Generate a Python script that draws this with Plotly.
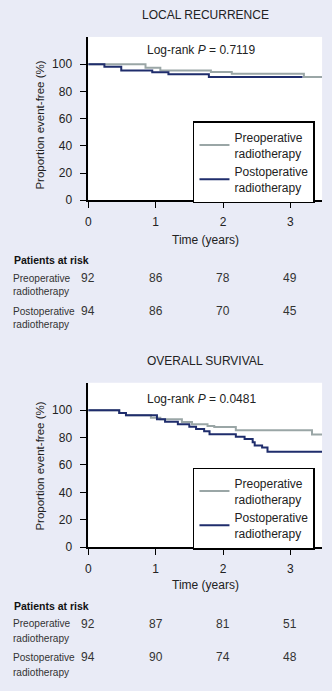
import plotly.graph_objects as go

W, H = 332, 691

# ---------------- data ----------------
years = [0, 1, 2, 3]

# Local recurrence (event-free %), step points (time in years)
lr_pre_t = [0, 0.85, 1.07, 1.82, 2.13, 3.20, 3.47]
lr_pre_s = [100, 97.3, 95.4, 94.2, 93.0, 90.6, 90.6]
lr_post_t = [0, 0.24, 0.49, 0.95, 1.19, 1.79, 3.18]
lr_post_s = [100, 98.0, 95.3, 94.0, 92.6, 90.6, 90.6]

# Overall survival (event-free %), step points
os_pre_t = [0, 0.46, 0.56, 0.93, 1.07, 1.39, 1.54, 1.77, 1.87, 2.19, 3.32, 3.47]
os_pre_s = [100, 98.0, 96.2, 94.5, 93.3, 91.4, 89.7, 88.4, 87.7, 85.4, 82.3, 82.3]
os_post_t = [0, 0.46, 0.56, 0.90, 1.02, 1.14, 1.33, 1.50, 1.60, 1.72, 1.80,
             2.19, 2.32, 2.44, 2.47, 2.58, 2.66, 3.47]
os_post_s = [100, 98.0, 96.2, 96.2, 93.3, 91.6, 89.7, 87.8, 86.3, 84.6, 82.5,
             80.5, 79.0, 76.6, 74.2, 72.8, 69.7, 69.7]

# Patients at risk
lr_risk_pre = [92, 86, 78, 49]
lr_risk_post = [94, 86, 70, 45]
os_risk_pre = [92, 87, 81, 51]
os_risk_post = [94, 90, 74, 48]

panel_titles = ["LOCAL RECURRENCE", "OVERALL SURVIVAL"]
logrank_p = ["0.7119", "0.0481"]
group_names = ["Preoperative<br>radiotherapy", "Postoperative<br>radiotherapy"]

# ---------------- style ----------------
BG = "#e9ebf6"
GRAY = "#9aa6a6"
NAVY = "#1f2d6c"
FONT = "Liberation Sans, Arial, sans-serif"


def px(x):
    return x / W


def py(y):
    return 1 - y / H


fig = go.Figure()

panels = [
    dict(pre=(lr_pre_t, lr_pre_s), post=(lr_post_t, lr_post_s),
         risk=(lr_risk_pre, lr_risk_post), top=37.3, bottom=202.3,
         legend="legend", xa="x", ya="y"),
    dict(pre=(os_pre_t, os_pre_s), post=(os_post_t, os_post_s),
         risk=(os_risk_pre, os_risk_post), top=386.7, bottom=552.7,
         legend="legend2", xa="x2", ya="y2"),
]

for i, p in enumerate(panels):
    fig.add_trace(go.Scatter(x=p["pre"][0], y=p["pre"][1], mode="lines",
                             line=dict(color=GRAY, width=2, shape="hv"),
                             name=group_names[0], legend=p["legend"],
                             xaxis=p["xa"], yaxis=p["ya"]))
    fig.add_trace(go.Scatter(x=p["post"][0], y=p["post"][1], mode="lines",
                             line=dict(color=NAVY, width=2, shape="hv"),
                             name=group_names[1], legend=p["legend"],
                             xaxis=p["xa"], yaxis=p["ya"]))

axis_common = dict(showline=True, linecolor="black", linewidth=1.5,
                   ticks="outside", ticklen=6, tickwidth=1.2, tickcolor="black",
                   showgrid=False, zeroline=False,
                   tickfont=dict(family=FONT, size=12, color="#222"))

layout = dict(
    width=W, height=H, margin=dict(l=0, r=0, t=0, b=0),
    paper_bgcolor=BG, plot_bgcolor="white",
    font=dict(family=FONT, size=12, color="#222"),
    showlegend=True,
)

for i, p in enumerate(panels):
    sfx = "" if i == 0 else str(i + 1)
    layout["xaxis" + sfx] = dict(axis_common, domain=[px(86), px(322)],
                                 range=[0, 3.47], tickvals=years,
                                 anchor="y" + sfx, ticklabelstandoff=4)
    layout["yaxis" + sfx] = dict(axis_common, domain=[py(p["bottom"]), py(p["top"])],
                                 range=[0, 120], tickvals=[0, 20, 40, 60, 80, 100],
                                 anchor="x" + sfx, ticklabelstandoff=6)
    leg_top = 122.7 if i == 0 else 472.3
    layout[p["legend"]] = dict(x=px(191.7), y=py(leg_top), xanchor="left",
                               yanchor="top", bgcolor="white",
                               bordercolor="black", borderwidth=1.5,
                               font=dict(family=FONT, size=12, color="#222"),
                               tracegroupgap=2, itemwidth=30)

fig.update_layout(**layout)

ann = []
title_y = [14.7, 365]
logrank_y = [51, 402.7]
ytitle_y = [126.5, 471]
xtitle_y = [242.7, 591]
par_y = [262.7, 612.7]
row_y = [(281, 294.3, 314.3, 328.3), (630, 645, 664, 679)]

for i, p in enumerate(panels):
    xa = p["xa"]
    ann.append(dict(text=panel_titles[i], x=px(204), y=py(title_y[i]),
                    xref="paper", yref="paper", showarrow=False,
                    xanchor="center", yanchor="middle",
                    font=dict(family=FONT, size=12, color="#222")))
    ann.append(dict(text="Log-rank <i>P</i> = " + logrank_p[i], x=px(143),
                    y=py(logrank_y[i]), xref="paper", yref="paper",
                    showarrow=False, xanchor="left", yanchor="middle",
                    font=dict(family=FONT, size=12, color="#222")))
    ann.append(dict(text="Proportion event-free (%)", x=px(37.7),
                    y=py(ytitle_y[i]), xref="paper", yref="paper",
                    showarrow=False, textangle=-90, xanchor="center",
                    yanchor="middle",
                    font=dict(family=FONT, size=11.5, color="#222")))
    ann.append(dict(text="Time (years)", x=px(204), y=py(xtitle_y[i]),
                    xref="paper", yref="paper", showarrow=False,
                    xanchor="center", yanchor="middle",
                    font=dict(family=FONT, size=12, color="#222")))
    ann.append(dict(text="<b>Patients at risk</b>", x=px(9), y=py(par_y[i]),
                    xref="paper", yref="paper", showarrow=False,
                    xanchor="left", yanchor="middle",
                    font=dict(family=FONT, size=10.5, color="#111")))
    r = row_y[i]
    labels = [("Preoperative", r[0]), ("radiotherapy", r[1]),
              ("Postoperative", r[2]), ("radiotherapy", r[3])]
    for t, yy in labels:
        ann.append(dict(text=t, x=px(8), y=py(yy), xref="paper", yref="paper",
                        showarrow=False, xanchor="left", yanchor="middle",
                        font=dict(family=FONT, size=10.1, color="#333")))
    for vals, yy in ((p["risk"][0], r[0]), (p["risk"][1], r[2])):
        for xv, v in zip(years, vals):
            ann.append(dict(text=str(v), x=xv, y=py(yy), xref=xa,
                            yref="paper", showarrow=False, xanchor="center",
                            yanchor="middle",
                            font=dict(family=FONT, size=12, color="#333")))

fig.update_layout(annotations=ann)
fig.write_html("out.html")
